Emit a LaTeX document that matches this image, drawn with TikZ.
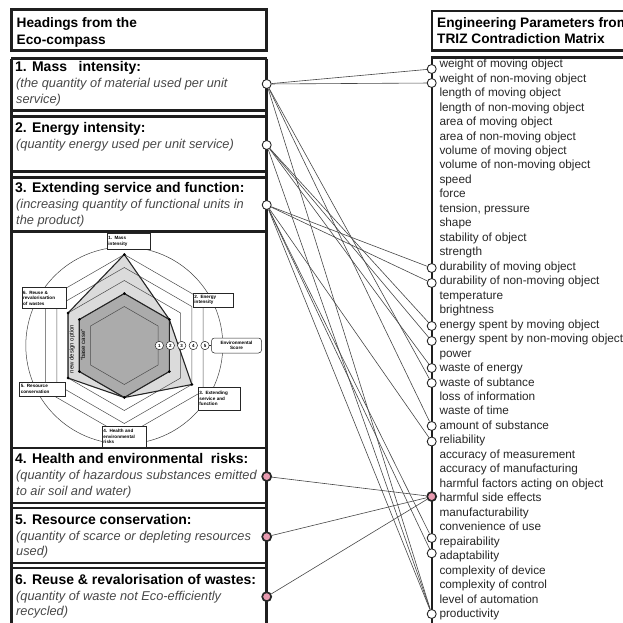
\documentclass[tikz,border=0pt]{standalone}
\usepackage{fontspec}
\setmainfont{Liberation Sans}
\definecolor{pinkc}{HTML}{E89AB0}
\definecolor{subgray}{HTML}{474747}
\definecolor{itemc}{HTML}{262626}
\begin{document}
\begin{tikzpicture}[x=1pt,y=-1pt,
  boxline/.style={line width=2.7pt, draw=black!88},
  conn/.style={draw=black!72, line width=0.6pt},
  wnode/.style={circle, draw=black!85, fill=white, line width=0.9pt, minimum size=9pt, inner sep=0pt},
  pnode/.style={circle, draw=black!85, fill=pinkc, line width=1.7pt, minimum size=9pt, inner sep=0pt},
  headtxt/.style={anchor=base west, font=\bfseries\fontsize{13.7}{16}\selectfont, inner sep=0pt},
  titletxt/.style={anchor=base west, font=\bfseries\fontsize{14}{16}\selectfont, inner sep=0pt},
  subtxt/.style={anchor=base west, font=\itshape\fontsize{12.8}{15}\selectfont, text=subgray, inner sep=0pt},
  itemtxt/.style={anchor=base west, font=\fontsize{11.8}{13}\selectfont, text=itemc, inner sep=0pt},
  gridhex/.style={draw=black!70, line width=0.5pt},
  polyline/.style={draw=black!85, line width=1.1pt},
  vdot/.style={circle, fill=black, inner sep=0pt, minimum size=3pt},
  lbl/.style={draw=black!85, fill=white, line width=0.5pt, font=\bfseries\fontsize{4.6}{5.6}\selectfont, align=left, inner sep=1.2pt, anchor=north west},
  scirc/.style={circle, draw=black!85, fill=white, line width=0.5pt, minimum size=8.4pt, inner sep=0pt, font=\bfseries\fontsize{4.5}{5}\selectfont},
  rot/.style={rotate=90, font=\fontsize{6}{7}\selectfont, inner sep=0pt}
]
\useasboundingbox (0,0) rectangle (623,623);
\clip (0,0) rectangle (623,623);

% ---------------- left column ----------------
\draw[boxline] (11.3,9.7) rectangle (266.7,50.3);
\node[headtxt] (lh1) at (16.5,27.7) {Headings from the};
\node[headtxt] (lh2) at (16.5,44.3) {Eco-compass};

\draw[boxline] (11.3,58.7) -- (11.3,630);
\draw[boxline] (266.7,58.7) -- (266.7,630);
\foreach \yy in {58.7,110.8,116.7,171.3,177.5,231.8,448,503,508,563,568}
  \draw[boxline] (11.3,\yy) -- (266.7,\yy);

\node[titletxt] (t1) at (15,71.7) {1. Mass\ \ \ intensity:};
\node[subtxt] (s1a) at (16,87.3) {(the quantity of material used per unit};
\node[subtxt] (s1b) at (16,103.3) {service)};
\node[titletxt] (t2) at (15,132.3) {2. Energy intensity:};
\node[subtxt] (s2a) at (16,148.3) {(quantity energy used per unit service)};
\node[titletxt] (t3) at (15,192.7) {3. Extending service and function:};
\node[subtxt] (s3a) at (16,208.3) {(increasing quantity of functional units in};
\node[subtxt] (s3b) at (16,224) {the product)};
\node[titletxt] (t4) at (15,463.3) {4. Health and environmental\ \ risks:};
\node[subtxt] (s4a) at (16,479.3) {(quantity of hazardous substances emitted};
\node[subtxt] (s4b) at (16,495) {to air soil and water)};
\node[titletxt] (t5) at (15,524.3) {5. Resource conservation:};
\node[subtxt] (s5a) at (16,540) {(quantity of scarce or depleting resources};
\node[subtxt] (s5b) at (16,555.3) {used)};
\node[titletxt] (t6) at (15,584.3) {6. Reuse \& revalorisation of wastes:};
\node[subtxt] (s6a) at (16,600) {(quantity of waste not Eco-efficiently};
\node[subtxt] (s6b) at (16,615.7) {recycled)};

% ---------------- radar chart ----------------
\begin{scope}[shift={(124.3,345.5)}]
  \draw[black!75, line width=0.5pt] (0,0) circle[radius=98.5];
  \fill[black!14] (-90:91) -- (-30:52) -- (30:78) -- (90:52) -- (150:65) -- (210:65) -- cycle;
  \fill[black!33] (-90:52) -- (-30:52) -- (30:52) -- (90:52) -- (150:52) -- (210:52) -- cycle;
  \foreach \R in {39,52,65,78,91}
    \draw[gridhex] (-90:\R) -- (-30:\R) -- (30:\R) -- (90:\R) -- (150:\R) -- (210:\R) -- cycle;
  \draw[polyline] (-90:91) -- (-30:52) -- (30:78) -- (90:52) -- (150:65) -- (210:65) -- cycle;
  \draw[polyline] (-90:52) -- (-30:52) -- (30:52) -- (90:52) -- (150:52) -- (210:52) -- cycle;
  \foreach \a/\R in {-90/91,-30/52,30/78,90/52,150/65,210/65,-90/52,30/52,150/52,210/52}
    \node[vdot] at (\a:\R) {};
\end{scope}

\node[rot] (ndo) at (72,349) {new design option};
\node[rot] (bc) at (83,345) {“base case”};

\node[lbl, text width=41pt, minimum height=16pt] (lb1) at (107,233) {1. Mass\\intensity};
\node[lbl, text width=38pt, minimum height=13.5pt] (lb2) at (193,293) {2. Energy\\intensity};
\node[lbl, text width=40pt, minimum height=23pt] (lb3) at (198,387) {3. Extending\\service and\\function};
\node[lbl, text width=42pt, minimum height=21pt] (lb4) at (102,426) {4. Health and\\environmental\\risks};
\node[lbl, text width=43pt, minimum height=14pt] (lb5) at (19.3,381.7) {5. Resource\\conservation};
\node[lbl, text width=42pt, minimum height=21pt] (lb6) at (21.7,287.3) {6. Reuse \&\\revalorisartion\\of wastes};

\node[scirc] (sc1) at (159.3,345.5) {1};
\node[scirc] (sc2) at (170.3,345.5) {2};
\node[scirc] (sc3) at (181.7,345.5) {3};
\node[scirc] (sc4) at (193.3,345.5) {4};
\node[scirc] (sc5) at (205,345.5) {5};
\node[draw=black!85, fill=white, line width=0.5pt, rounded corners=3pt, minimum width=50pt, minimum height=15pt, align=center, inner sep=0.8pt, font=\bfseries\fontsize{4.6}{5.6}\selectfont] (env) at (236.5,345.5) {Environmental\\Score};
\draw[black!85, line width=0.5pt] (sc5) -- (env);

% ---------------- right column ----------------
\draw[boxline] (432,11) rectangle (660,50.5);
\node[headtxt] (rh1) at (437,27.7) {Engineering Parameters from};
\node[headtxt] (rh2) at (437,43.8) {TRIZ Contradiction Matrix};
\draw[boxline] (660,57.3) -- (432,57.3) -- (432,630);

\foreach \t [count=\i from 0] in {weight of moving object, weight of non-moving object,
  length of moving object, length of non-moving object, area of moving object,
  area of non-moving object, volume of moving object, volume of non-moving object,
  speed, force, {tension, pressure}, shape, stability of object, strength,
  durability of moving object, durability of non-moving object, temperature,
  brightness, energy spent by moving object, energy spent by non-moving object,
  power, waste of energy, waste of subtance, loss of information, waste of time,
  amount of substance, reliability, accuracy of measurement,
  accuracy of manufacturing, harmful factors acting on object,
  harmful side effects, manufacturability, convenience of use, repairability,
  adaptability, complexity of device, complexity of control,
  level of automation, productivity}
  \node[itemtxt] (it\i) at (439.3,{67.7+14.47*\i}) {\t};

% ---------------- connector end nodes ----------------
\node[wnode] (l1) at (266.7,84) {};
\node[wnode] (l2) at (266.7,145) {};
\node[wnode] (l3) at (266.7,205) {};
\node[pnode] (l4) at (266.7,476.5) {};
\node[pnode] (l5) at (266.7,536.7) {};
\node[pnode] (l6) at (266.7,596.7) {};

\foreach \n/\yy in {0/69,1/83,14/268,15/283,18/326,19/341,21/368,22/383,25/426,26/441.5,33/538,34/553.3,38/614}
  \node[wnode] (c\n) at (431.7,\yy) {};
\node[pnode] (c30) at (431.7,496.5) {};

% ---------------- connectors ----------------
\foreach \a/\b in {l1/c0,l1/c1,l1/c22,l1/c25,l1/c38,
                   l2/c18,l2/c19,l2/c21,l2/c38,
                   l3/c14,l3/c15,l3/c26,l3/c33,l3/c34,l3/c38,
                   l4/c30,l5/c30,l6/c30}
  \draw[conn] (\a) -- (\b);
\end{tikzpicture}
\end{document}
